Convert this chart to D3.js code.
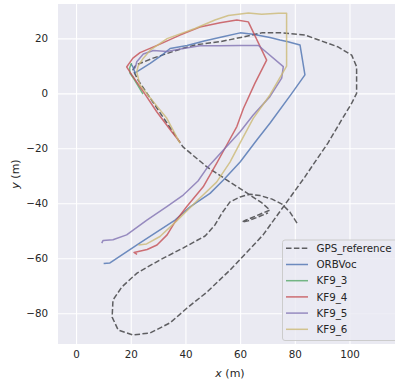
<!DOCTYPE html>
<html>
<head>
<meta charset="utf-8">
<script src="https://cdn.jsdelivr.net/npm/d3@7"></script>
<style>
  body { margin: 0; background: #fff; }
  #traj text { font-family: "DejaVu Sans", sans-serif; fill: #262626; }
</style>
</head>
<body>
<div id="traj"></div>
<script>
// trajectories, [x (m), y (m)]
const gpsReference = [
  [80.8,-47.2],[78.2,-43.2],[75.3,-40.3],[71.7,-38.5],[67.3,-37.2],[63.6,-36.7],[60.0,-37.7],
  [56.3,-39.5],[53.4,-43.5],[50.8,-47.9],[47.2,-51.9],[39.1,-56.3],[30.7,-60.6],[22.3,-65.4],
  [16.8,-70.4],[13.5,-75.2],[13.2,-81.4],[15.4,-86.1],[20.8,-87.9],[27.1,-87.2],[34.4,-83.5],
  [40.6,-78.1],[47.9,-72.3],[56.3,-64.3],[68.4,-51.5],[83.7,-30.4],[86.2,-26.7],[92.1,-18.1],
  [97.1,-9.7],[100.8,-3.6],[102.6,0],[102.6,9.7],[100.8,13.9],[95.8,16.9],[83.7,21.2],
  [75.3,22.0],[67.9,22.0],[59.2,20.1],[52.7,18.8],[43.5,17.6],[36.9,15.7],[28.2,12.8],
  [21.9,10.3],[20.8,8.5],[22.7,4.8],[27.1,-1.7],[32.5,-9.7],[39.1,-19.5],[47.9,-26.8],
  [56.3,-32.3],[63.6,-37.0],[68.0,-39.9],[70.9,-42.5],[66.5,-44.3],[62.2,-46.1],[60.7,-46.8],
  [62.9,-46.4],[66.5,-45.0],[70.2,-43.5]
];
const orbVoc = [
  [10.1,-61.9],[12.4,-61.7],[23.4,-54.4],[36.2,-46.1],[41.7,-41.3],[49.0,-36.4],[53.9,-31.5],
  [60.0,-25.0],[66.1,-17.0],[70.9,-10.9],[78.9,0],[83.7,6.7],[81.9,17.6],[77.5,18.8],
  [74.6,19.4],[70.9,20.3],[64.7,21.5],[60.0,22.0],[53.7,20.6],[47.2,19.1],[40.6,17.4],
  [34.4,16.3],[31.4,13.9],[27.1,10.9],[21.6,7.4],[20.8,9.6],[20.1,10.7]
];
const kf9_3 = [
  [20.3,11.0],[19.6,9.2],[19.7,7.4],[21.2,5.2],[22.7,2.7],[24.5,-0.3]
];
const kf9_4 = [
  [22.3,-58.6],[21.2,-57.9],[26.0,-56.8],[29.6,-55.2],[33.3,-51.5],[36.2,-46.8],[40.5,-41.2],
  [46.5,-34.0],[51.4,-25.5],[55.1,-18.8],[58.8,-12.1],[61.2,-5.5],[65.4,3.6],[69.7,12.1],
  [63.0,26.0],[58.8,26.7],[52.7,25.7],[45.3,24.1],[38.0,21.2],[30.7,17.9],[23.4,14.8],
  [20.8,12.8],[18.5,9.6],[20.4,6.7],[24.6,0.6],[29.5,-6.7],[35.0,-14.0],[38.0,-17.7]
];
const kf9_5 = [
  [9.4,-54.5],[9.9,-53.5],[13.5,-53.3],[18.5,-51.5],[25.9,-46.1],[33.2,-41.2],[39.2,-37.0],
  [44.6,-31.9],[47.8,-27.3],[53.9,-20.6],[60.0,-14.0],[64.8,-7.9],[70.9,-1.2],[75.2,5.5],
  [75.8,9.7],[66.7,17.4],[60.0,17.4],[52.7,17.3],[45.3,17.3],[39.2,16.3],[33.2,15.2],
  [28.3,15.6],[24.6,14.3],[22.2,11.5],[21.6,9.1]
];
const kf9_6 = [
  [22.8,-55.2],[25.8,-54.8],[30.7,-52.1],[36.8,-46.4],[45.3,-38.1],[51.4,-32.3],[56.3,-25.0],
  [60.0,-18.0],[64.8,-9.1],[70.9,-0.6],[77.0,9.9],[77.0,29.1],[74.0,29.1],[67.9,28.8],
  [63.0,29.2],[55.7,28.3],[50.8,26.7],[43.5,23.6],[33.3,19.9],[27.1,15.7],[24.6,12.8],
  [22.7,9.9],[22.2,7.7],[23.4,3.0],[28.3,-3.1],[33.2,-9.1],[38.0,-18.1]
];

const seriesNames = ["GPS_reference", "ORBVoc", "KF9_3", "KF9_4", "KF9_5", "KF9_6"];
const seriesData = [gpsReference, orbVoc, kf9_3, kf9_4, kf9_5, kf9_6];
const seriesColors = ["#000000", "#4C72B0", "#55A868", "#C44E52", "#8172B2", "#CCB974"];

const xTicks = [0, 20, 40, 60, 80, 100];
const yTicks = [-80, -60, -40, -20, 0, 20];

const W = 395, H = 382;
const L = 58, R = 402, T = 4, B = 344;

const svg = d3.select("#traj").append("svg")
  .attr("width", W)
  .attr("height", H);

const x = d3.scaleLinear().domain([-6.6, 119.2]).range([L, R]);
const y = d3.scaleLinear().domain([32.5, -91.2]).range([T, B]);

// plot background
svg.append("rect")
  .attr("x", L).attr("y", T)
  .attr("width", R - L).attr("height", B - T)
  .attr("fill", "#EAEAF2");

// white grid via axes
svg.append("g")
  .attr("transform", "translate(0," + B + ")")
  .call(d3.axisBottom(x).tickValues(xTicks).tickSize(-(B - T)).tickPadding(7).tickFormat(d3.format("d")))
  .call(g => g.select(".domain").remove())
  .call(g => g.selectAll("line").attr("stroke", "#fff").attr("stroke-width", 1.1))
  .call(g => g.selectAll("text").style("font-size", "10.3px").attr("fill", "#262626"));

svg.append("g")
  .attr("transform", "translate(" + L + ",0)")
  .call(d3.axisLeft(y).tickValues(yTicks).tickSize(-(R - L)).tickPadding(10).tickFormat(d => d < 0 ? "\u2212" + Math.abs(d) : d))
  .call(g => g.select(".domain").remove())
  .call(g => g.selectAll("line").attr("stroke", "#fff").attr("stroke-width", 1.1))
  .call(g => g.selectAll("text").style("font-size", "10.3px").attr("fill", "#262626"));

const line = d3.line().x(d => x(d[0])).y(d => y(d[1]));

const clip = svg.append("clipPath").attr("id", "plotclip")
  .append("rect").attr("x", L).attr("y", T).attr("width", R - L).attr("height", B - T);

seriesData.forEach((data, i) => {
  svg.append("path")
    .attr("clip-path", "url(#plotclip)")
    .attr("fill", "none")
    .attr("stroke", seriesColors[i])
    .attr("stroke-opacity", i == 0 ? 0.6 : 0.8)
    .attr("stroke-width", 1.5)
    .style("stroke-dasharray", i == 0 ? "5.5, 2.4" : null)
    .attr("stroke-linejoin", "round")
    .attr("d", line(data));
});

// axis labels
const xl = svg.append("text")
  .attr("x", (L + R) / 2)
  .attr("y", 377)
  .attr("text-anchor", "middle")
  .style("font-size", "11px");
xl.append("tspan").style("font-style", "italic").text("x");
xl.append("tspan").text(" (m)");

const yl = svg.append("text")
  .attr("transform", "translate(19," + (T + B) / 2 + ") rotate(-90)")
  .attr("text-anchor", "middle")
  .style("font-size", "11px");
yl.append("tspan").style("font-style", "italic").text("y");
yl.append("tspan").text(" (m)");

// legend
const lg = svg.append("g");
lg.append("rect")
  .attr("x", 282.5).attr("y", 240)
  .attr("width", 115).attr("height", 100.5)
  .attr("rx", 2.5)
  .attr("fill", "#EAEAF2").attr("fill-opacity", 0.8)
  .attr("stroke", "#cccccc").attr("stroke-width", 1);

seriesNames.forEach((name, i) => {
  const yy = 248.3 + i * 16.2;
  lg.append("line")
    .attr("x1", 286).attr("x2", 308)
    .attr("y1", yy).attr("y2", yy)
    .attr("stroke", seriesColors[i])
    .attr("stroke-opacity", i == 0 ? 0.6 : 0.8)
    .attr("stroke-width", 1.5)
    .style("stroke-dasharray", i == 0 ? "5.5, 2.4" : null);
  lg.append("text")
    .attr("x", 316.5)
    .attr("y", yy)
    .attr("dy", "0.35em")
    .style("font-size", "10.3px")
    .text(name);
});
</script>
</body>
</html>
